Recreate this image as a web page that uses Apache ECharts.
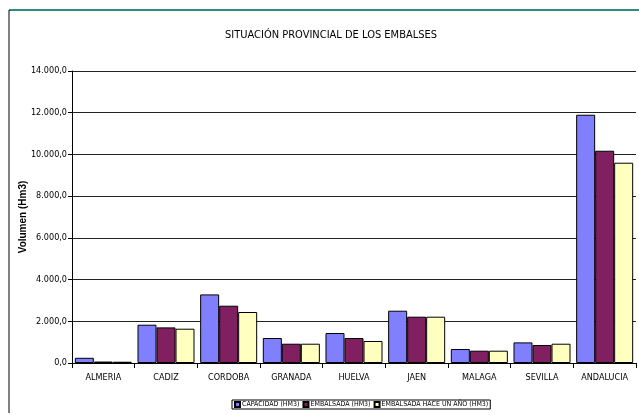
<!DOCTYPE html>
<html>
<head>
<meta charset="utf-8">
<script src="https://cdn.jsdelivr.net/npm/echarts@6/dist/echarts.min.js"></script>
<style>
html,body{margin:0;padding:0;background:#fff;}
#c{width:639px;height:415px;}
</style>
</head>
<body>
<div id="c"></div>
<script>
var categories = ['ALMERIA','CADIZ','CORDOBA','GRANADA','HUELVA','JAEN','MALAGA','SEVILLA','ANDALUCIA'];
var capacidad = [250, 1836, 3289, 1198, 1438, 2507, 671, 988, 11903];
var embalsada = [70, 1707, 2747, 925, 1198, 2220, 590, 863, 10177];
var haceUnAno = [60, 1644, 2445, 925, 1055, 2220, 590, 925, 9602];
var seriesNames = ['CAPACIDAD (HM3)', 'EMBALSADA (HM3)', 'EMBALSADA HACE UN AÑO (HM3)'];

var FONT = '"DejaVu Sans Condensed", "Liberation Sans Narrow", sans-serif';

function fmt(v){
  var s = Math.round(v).toString().replace(/\B(?=(\d{3})+(?!\d))/g, '.');
  return s + ',0';
}

var chart = echarts.init(document.getElementById('c'));
var barStyle = function(color){
  return {color: color, borderColor: '#000', borderWidth: 1};
};
chart.setOption({
  animation: false,
  backgroundColor: '#fff',
  title: {
    text: 'SITUACIÓN PROVINCIAL DE LOS EMBALSES',
    left: 220,
    top: 25,
    textStyle: {fontFamily: FONT, fontSize: 11, fontWeight: 'normal', color: '#000'}
  },
  grid: {left: 72, right: 3, top: 71, bottom: 52},
  legend: {
    top: 400,
    left: 232,
    itemWidth: 5,
    itemHeight: 5,
    itemGap: 3,
    padding: [1, 2, 1, 2],
    borderColor: '#000',
    borderWidth: 1,
    icon: 'rect',
    textStyle: {fontFamily: FONT, fontSize: 7, color: '#000', padding: [0,0,0,-3]},
    data: seriesNames
  },
  xAxis: {
    type: 'category',
    data: categories,
    axisLine: {lineStyle: {color: '#000', width: 1}},
    axisTick: {show: true, alignWithLabel: false, length: 5, lineStyle: {color: '#000'}},
    axisLabel: {interval: 0, fontFamily: FONT, fontSize: 9, color: '#000', margin: 10}
  },
  yAxis: {
    type: 'value',
    min: 0,
    max: 14000,
    interval: 2000,
    name: 'Volumen (Hm3)',
    nameLocation: 'middle',
    nameRotate: 90,
    nameGap: 44,
    nameMoveOverlap: false,
    nameTextStyle: {fontFamily: '"Liberation Sans", Arial, sans-serif', fontSize: 10, fontWeight: 'bold', color: '#000'},
    axisLine: {show: true, lineStyle: {color: '#000', width: 1}},
    axisTick: {show: true, length: 4, lineStyle: {color: '#000'}},
    axisLabel: {fontFamily: FONT, fontSize: 9, color: '#000', margin: 5, formatter: fmt},
    splitLine: {lineStyle: {color: '#222', width: 1}}
  },
  series: [
    {name: seriesNames[0], type: 'bar', data: capacidad, barGap: '0%', barCategoryGap: '9%', itemStyle: barStyle('#8080FF')},
    {name: seriesNames[1], type: 'bar', data: embalsada, barGap: '0%', barCategoryGap: '9%', itemStyle: barStyle('#802060')},
    {name: seriesNames[2], type: 'bar', data: haceUnAno, barGap: '0%', barCategoryGap: '9%', itemStyle: barStyle('#FFFFC0')}
  ],
  graphic: [
    {type: 'line', shape: {x1: 9, y1: 10, x2: 639, y2: 10}, style: {stroke: '#2E8B84', lineWidth: 2}},
    {type: 'line', shape: {x1: 9, y1: 10, x2: 9, y2: 413}, style: {stroke: '#000', lineWidth: 1}}
  ]
});
</script>
</body>
</html>
